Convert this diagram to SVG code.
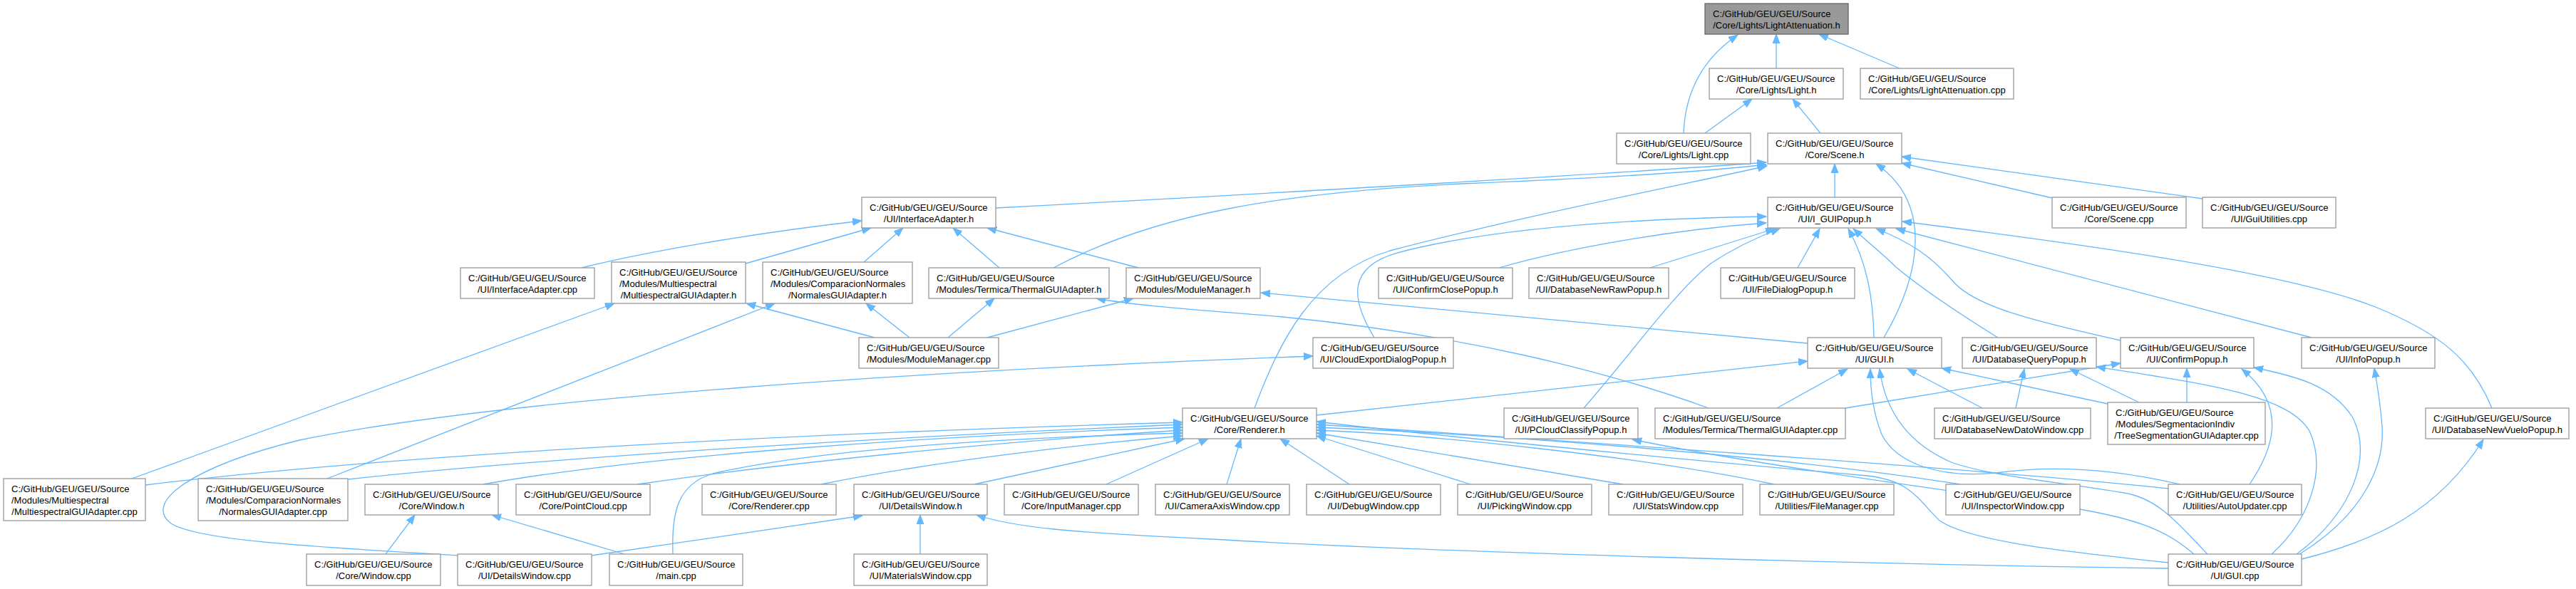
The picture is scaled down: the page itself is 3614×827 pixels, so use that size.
<svg xmlns="http://www.w3.org/2000/svg" width="3614" height="827" viewBox="0 0 3614 827">
<style>
.node rect{fill:#fff;stroke:#999;stroke-width:1.3}
.root rect{fill:#999;stroke:#666}
text{font-family:"Liberation Sans",Arial,sans-serif;font-size:13px;fill:#000}
.c{text-anchor:middle}
.edges path{fill:none;stroke:#63b8ff;stroke-width:1.3;marker-end:url(#arr)}
</style>
<defs>
<marker id="arr" markerUnits="userSpaceOnUse" markerWidth="14" markerHeight="11" refX="13" refY="5" orient="auto"><path d="M0,0 L13,5 L0,10 z" fill="#63b8ff" stroke="#63b8ff" stroke-width="1"/></marker>
</defs>
<rect width="3614" height="827" fill="#fff"/>
<g class="edges">
<path d="M2492,96 L2492,48"/>
<path d="M2362,187 C2364,135 2385,85 2438,49"/>
<path d="M2665,96 L2552,48"/>
<path d="M2392,187 L2458,139"/>
<path d="M2554,187 L2515,139"/>
<path d="M2574,277 L2574,230"/>
<path d="M2879,278 L2668,229"/>
<path d="M3090,279 L2668,220"/>
<path d="M2643,474 C2695,385 2712,285 2632,230"/>
<path d="M1397,292 C1900,265 2250,245 2478,228"/>
<path d="M1478,376 C1620,300 1800,270 2050,258 C2250,250 2400,240 2478,231"/>
<path d="M1760,573 C1795,480 1840,385 1950,352 C2150,300 2350,262 2479,233"/>
<path d="M1928,474 C1895,420 1890,375 1960,355 C2100,318 2300,307 2478,304"/>
<path d="M2103,376 C2200,348 2350,322 2478,313"/>
<path d="M2315,376 L2490,321"/>
<path d="M2222,573 C2290,495 2350,410 2400,370 C2430,350 2460,335 2497,321"/>
<path d="M2522,376 L2553,321"/>
<path d="M2629,474 C2628,420 2620,370 2593,321"/>
<path d="M2803,474 C2740,435 2690,400 2660,375 C2640,355 2620,340 2600,321"/>
<path d="M2975,478 C2850,450 2770,430 2740,395 C2710,360 2680,340 2632,321"/>
<path d="M3243,474 L2660,321"/>
<path d="M3496,573 C3470,510 3430,470 3330,430 C3200,380 2900,340 2669,311"/>
<path d="M2536,482 L1769,411"/>
<path d="M1847,583 L2536,507"/>
<path d="M2493,573 L2592,518"/>
<path d="M2781,573 L2676,518"/>
<path d="M2957,567 L2724,517"/>
<path d="M2828,573 L2840,518"/>
<path d="M3001,565 L2904,518"/>
<path d="M2589,573 L2975,510"/>
<path d="M3068,565 L3068,517"/>
<path d="M3156,680 C3190,630 3210,570 3145,518"/>
<path d="M3222,778 C3300,720 3330,640 3300,585 C3270,540 3220,528 3162,516"/>
<path d="M3226,778 C3320,720 3345,650 3342,600 C3340,570 3336,545 3331,517"/>
<path d="M3229,785 C3330,760 3420,720 3484,617"/>
<path d="M3187,778 C3240,730 3265,660 3240,605 C3210,555 3100,540 2941,515"/>
<path d="M816,376 C900,355 1050,328 1209,310"/>
<path d="M1046,370 L1222,320"/>
<path d="M1212,368 L1267,320"/>
<path d="M1402,376 L1337,320"/>
<path d="M1597,376 L1385,320"/>
<path d="M1227,474 L1047,426"/>
<path d="M1276,474 L1215,426"/>
<path d="M1330,474 L1395,419"/>
<path d="M1385,474 L1590,419"/>
<path d="M2397,573 C2250,520 2050,470 1800,445 C1680,435 1600,430 1538,419"/>
<path d="M185,672 L862,426"/>
<path d="M459,672 L1087,426"/>
<path d="M643,780 C450,768 280,760 240,735 C200,705 270,655 420,618 C700,560 1300,520 1842,500"/>
<path d="M204,681 C500,645 1000,612 1659,593"/>
<path d="M488,673 C700,650 1100,620 1659,596"/>
<path d="M678,680 C900,640 1300,612 1659,600"/>
<path d="M894,680 C1100,650 1400,620 1659,604"/>
<path d="M944,778 C942,720 950,680 1000,665 C1150,630 1400,615 1659,608"/>
<path d="M1152,680 C1300,650 1500,625 1659,612"/>
<path d="M1367,680 L1662,616"/>
<path d="M1552,680 L1695,616"/>
<path d="M1721,680 L1741,616"/>
<path d="M1893,680 L1796,616"/>
<path d="M2063,680 L1847,612"/>
<path d="M2277,680 L1847,608"/>
<path d="M2489,680 C2300,640 2000,610 1847,604"/>
<path d="M2750,680 C2500,640 2100,610 1847,600"/>
<path d="M3042,686 C2800,660 2100,612 1847,596"/>
<path d="M3078,778 C3040,745 3000,728 2900,712 C2700,685 2450,650 2290,617"/>
<path d="M3042,790 C2900,775 2760,760 2720,730 C2690,700 2680,675 2620,668 C2300,640 2000,610 1847,592"/>
<path d="M3058,680 C2990,664 2900,650 2800,664 C2720,672 2660,650 2640,610 C2628,580 2624,550 2624,518"/>
<path d="M3097,778 C3060,740 3030,700 2980,692 C2900,678 2800,670 2740,650 C2680,625 2645,580 2637,518"/>
<path d="M541,778 L582,723"/>
<path d="M876,778 L690,723"/>
<path d="M830,780 L1210,724"/>
<path d="M1291,778 L1291,723"/>
<path d="M3042,798 C2600,792 2000,775 1700,757 C1500,748 1420,740 1370,723"/>
</g>
<g id="n_LightAttenuation_h" class="node root"><rect x="2392" y="5" width="201" height="43"/><text x="2403" y="23.5">C:/GitHub/GEU/GEU/Source</text><text class="c" x="2492.5" y="39.5">/Core/Lights/LightAttenuation.h</text></g>
<g id="n_Light_h" class="node"><rect x="2398" y="96" width="188" height="43"/><text x="2409" y="114.5">C:/GitHub/GEU/GEU/Source</text><text class="c" x="2492" y="130.5">/Core/Lights/Light.h</text></g>
<g id="n_LightAttenuation_cpp" class="node"><rect x="2610" y="96" width="215" height="43"/><text x="2621" y="114.5">C:/GitHub/GEU/GEU/Source</text><text class="c" x="2717.5" y="130.5">/Core/Lights/LightAttenuation.cpp</text></g>
<g id="n_Light_cpp" class="node"><rect x="2268" y="187" width="188" height="43"/><text x="2279" y="205.5">C:/GitHub/GEU/GEU/Source</text><text class="c" x="2362" y="221.5">/Core/Lights/Light.cpp</text></g>
<g id="n_Scene_h" class="node"><rect x="2480" y="187" width="188" height="43"/><text x="2491" y="205.5">C:/GitHub/GEU/GEU/Source</text><text class="c" x="2574" y="221.5">/Core/Scene.h</text></g>
<g id="n_InterfaceAdapter_h" class="node"><rect x="1209" y="277" width="188" height="43"/><text x="1220" y="295.5">C:/GitHub/GEU/GEU/Source</text><text class="c" x="1303" y="311.5">/UI/InterfaceAdapter.h</text></g>
<g id="n_I_GUIPopup_h" class="node"><rect x="2480" y="277" width="188" height="43"/><text x="2491" y="295.5">C:/GitHub/GEU/GEU/Source</text><text class="c" x="2574" y="311.5">/UI/I_GUIPopup.h</text></g>
<g id="n_Scene_cpp" class="node"><rect x="2879" y="277" width="188" height="43"/><text x="2890" y="295.5">C:/GitHub/GEU/GEU/Source</text><text class="c" x="2973" y="311.5">/Core/Scene.cpp</text></g>
<g id="n_GuiUtilities_cpp" class="node"><rect x="3090" y="277" width="187" height="43"/><text x="3101" y="295.5">C:/GitHub/GEU/GEU/Source</text><text class="c" x="3183.5" y="311.5">/UI/GuiUtilities.cpp</text></g>
<g id="n_InterfaceAdapter_cpp" class="node"><rect x="646" y="376" width="188" height="43"/><text x="657" y="394.5">C:/GitHub/GEU/GEU/Source</text><text class="c" x="740" y="410.5">/UI/InterfaceAdapter.cpp</text></g>
<g id="n_MultiespectralGUIAdapter_h" class="node"><rect x="858" y="368" width="188" height="58"/><text x="869" y="386.5">C:/GitHub/GEU/GEU/Source</text><text x="869" y="402.5">/Modules/Multiespectral</text><text class="c" x="952" y="418.5">/MultiespectralGUIAdapter.h</text></g>
<g id="n_NormalesGUIAdapter_h" class="node"><rect x="1070" y="368" width="210" height="58"/><text x="1081" y="386.5">C:/GitHub/GEU/GEU/Source</text><text x="1081" y="402.5">/Modules/ComparacionNormales</text><text class="c" x="1175" y="418.5">/NormalesGUIAdapter.h</text></g>
<g id="n_ThermalGUIAdapter_h" class="node"><rect x="1303" y="376" width="253" height="43"/><text x="1314" y="394.5">C:/GitHub/GEU/GEU/Source</text><text class="c" x="1429.5" y="410.5">/Modules/Termica/ThermalGUIAdapter.h</text></g>
<g id="n_ModuleManager_h" class="node"><rect x="1580" y="376" width="188" height="43"/><text x="1591" y="394.5">C:/GitHub/GEU/GEU/Source</text><text class="c" x="1674" y="410.5">/Modules/ModuleManager.h</text></g>
<g id="n_ConfirmClosePopup_h" class="node"><rect x="1934" y="376" width="188" height="43"/><text x="1945" y="394.5">C:/GitHub/GEU/GEU/Source</text><text class="c" x="2028" y="410.5">/UI/ConfirmClosePopup.h</text></g>
<g id="n_DatabaseNewRawPopup_h" class="node"><rect x="2145" y="376" width="196" height="43"/><text x="2156" y="394.5">C:/GitHub/GEU/GEU/Source</text><text class="c" x="2243" y="410.5">/UI/DatabaseNewRawPopup.h</text></g>
<g id="n_FileDialogPopup_h" class="node"><rect x="2414" y="376" width="188" height="43"/><text x="2425" y="394.5">C:/GitHub/GEU/GEU/Source</text><text class="c" x="2508" y="410.5">/UI/FileDialogPopup.h</text></g>
<g id="n_ModuleManager_cpp" class="node"><rect x="1205" y="474" width="196" height="43"/><text x="1216" y="492.5">C:/GitHub/GEU/GEU/Source</text><text class="c" x="1303" y="508.5">/Modules/ModuleManager.cpp</text></g>
<g id="n_CloudExportDialogPopup_h" class="node"><rect x="1842" y="474" width="197" height="43"/><text x="1853" y="492.5">C:/GitHub/GEU/GEU/Source</text><text class="c" x="1940.5" y="508.5">/UI/CloudExportDialogPopup.h</text></g>
<g id="n_GUI_h" class="node"><rect x="2536" y="474" width="188" height="43"/><text x="2547" y="492.5">C:/GitHub/GEU/GEU/Source</text><text class="c" x="2630" y="508.5">/UI/GUI.h</text></g>
<g id="n_DatabaseQueryPopup_h" class="node"><rect x="2753" y="474" width="188" height="43"/><text x="2764" y="492.5">C:/GitHub/GEU/GEU/Source</text><text class="c" x="2847" y="508.5">/UI/DatabaseQueryPopup.h</text></g>
<g id="n_ConfirmPopup_h" class="node"><rect x="2975" y="474" width="187" height="43"/><text x="2986" y="492.5">C:/GitHub/GEU/GEU/Source</text><text class="c" x="3068.5" y="508.5">/UI/ConfirmPopup.h</text></g>
<g id="n_InfoPopup_h" class="node"><rect x="3229" y="474" width="187" height="43"/><text x="3240" y="492.5">C:/GitHub/GEU/GEU/Source</text><text class="c" x="3322.5" y="508.5">/UI/InfoPopup.h</text></g>
<g id="n_Renderer_h" class="node"><rect x="1659" y="573" width="188" height="43"/><text x="1670" y="591.5">C:/GitHub/GEU/GEU/Source</text><text class="c" x="1753" y="607.5">/Core/Renderer.h</text></g>
<g id="n_PCloudClassifyPopup_h" class="node"><rect x="2110" y="573" width="188" height="43"/><text x="2121" y="591.5">C:/GitHub/GEU/GEU/Source</text><text class="c" x="2204" y="607.5">/UI/PCloudClassifyPopup.h</text></g>
<g id="n_ThermalGUIAdapter_cpp" class="node"><rect x="2322" y="573" width="267" height="43"/><text x="2333" y="591.5">C:/GitHub/GEU/GEU/Source</text><text class="c" x="2455.5" y="607.5">/Modules/Termica/ThermalGUIAdapter.cpp</text></g>
<g id="n_DatabaseNewDatoWindow_cpp" class="node"><rect x="2714" y="573" width="219" height="43"/><text x="2725" y="591.5">C:/GitHub/GEU/GEU/Source</text><text class="c" x="2823.5" y="607.5">/UI/DatabaseNewDatoWindow.cpp</text></g>
<g id="n_TreeSegmentationGUIAdapter_cpp" class="node"><rect x="2957" y="565" width="221" height="59"/><text x="2968" y="583.5">C:/GitHub/GEU/GEU/Source</text><text x="2968" y="599.5">/Modules/SegmentacionIndiv</text><text class="c" x="3067.5" y="615.5">/TreeSegmentationGUIAdapter.cpp</text></g>
<g id="n_DatabaseNewVueloPopup_h" class="node"><rect x="3403" y="573" width="201" height="43"/><text x="3414" y="591.5">C:/GitHub/GEU/GEU/Source</text><text class="c" x="3503.5" y="607.5">/UI/DatabaseNewVueloPopup.h</text></g>
<g id="n_MultiespectralGUIAdapter_cpp" class="node"><rect x="5" y="672" width="199" height="59"/><text x="16" y="690.5">C:/GitHub/GEU/GEU/Source</text><text x="16" y="706.5">/Modules/Multiespectral</text><text class="c" x="104.5" y="722.5">/MultiespectralGUIAdapter.cpp</text></g>
<g id="n_NormalesGUIAdapter_cpp" class="node"><rect x="278" y="672" width="210" height="59"/><text x="289" y="690.5">C:/GitHub/GEU/GEU/Source</text><text x="289" y="706.5">/Modules/ComparacionNormales</text><text class="c" x="383" y="722.5">/NormalesGUIAdapter.cpp</text></g>
<g id="n_Window_h" class="node"><rect x="512" y="680" width="187" height="43"/><text x="523" y="698.5">C:/GitHub/GEU/GEU/Source</text><text class="c" x="605.5" y="714.5">/Core/Window.h</text></g>
<g id="n_PointCloud_cpp" class="node"><rect x="724" y="680" width="188" height="43"/><text x="735" y="698.5">C:/GitHub/GEU/GEU/Source</text><text class="c" x="818" y="714.5">/Core/PointCloud.cpp</text></g>
<g id="n_Renderer_cpp" class="node"><rect x="985" y="680" width="188" height="43"/><text x="996" y="698.5">C:/GitHub/GEU/GEU/Source</text><text class="c" x="1079" y="714.5">/Core/Renderer.cpp</text></g>
<g id="n_DetailsWindow_h" class="node"><rect x="1198" y="680" width="187" height="43"/><text x="1209" y="698.5">C:/GitHub/GEU/GEU/Source</text><text class="c" x="1291.5" y="714.5">/UI/DetailsWindow.h</text></g>
<g id="n_InputManager_cpp" class="node"><rect x="1409" y="680" width="188" height="43"/><text x="1420" y="698.5">C:/GitHub/GEU/GEU/Source</text><text class="c" x="1503" y="714.5">/Core/InputManager.cpp</text></g>
<g id="n_CameraAxisWindow_cpp" class="node"><rect x="1621" y="680" width="188" height="43"/><text x="1632" y="698.5">C:/GitHub/GEU/GEU/Source</text><text class="c" x="1715" y="714.5">/UI/CameraAxisWindow.cpp</text></g>
<g id="n_DebugWindow_cpp" class="node"><rect x="1833" y="680" width="188" height="43"/><text x="1844" y="698.5">C:/GitHub/GEU/GEU/Source</text><text class="c" x="1927" y="714.5">/UI/DebugWindow.cpp</text></g>
<g id="n_PickingWindow_cpp" class="node"><rect x="2045" y="680" width="188" height="43"/><text x="2056" y="698.5">C:/GitHub/GEU/GEU/Source</text><text class="c" x="2139" y="714.5">/UI/PickingWindow.cpp</text></g>
<g id="n_StatsWindow_cpp" class="node"><rect x="2257" y="680" width="188" height="43"/><text x="2268" y="698.5">C:/GitHub/GEU/GEU/Source</text><text class="c" x="2351" y="714.5">/UI/StatsWindow.cpp</text></g>
<g id="n_FileManager_cpp" class="node"><rect x="2469" y="680" width="188" height="43"/><text x="2480" y="698.5">C:/GitHub/GEU/GEU/Source</text><text class="c" x="2563" y="714.5">/Utilities/FileManager.cpp</text></g>
<g id="n_InspectorWindow_cpp" class="node"><rect x="2730" y="680" width="188" height="43"/><text x="2741" y="698.5">C:/GitHub/GEU/GEU/Source</text><text class="c" x="2824" y="714.5">/UI/InspectorWindow.cpp</text></g>
<g id="n_AutoUpdater_cpp" class="node"><rect x="3042" y="680" width="187" height="43"/><text x="3053" y="698.5">C:/GitHub/GEU/GEU/Source</text><text class="c" x="3135.5" y="714.5">/Utilities/AutoUpdater.cpp</text></g>
<g id="n_Window_cpp" class="node"><rect x="430" y="778" width="188" height="44"/><text x="441" y="796.5">C:/GitHub/GEU/GEU/Source</text><text class="c" x="524" y="812.5">/Core/Window.cpp</text></g>
<g id="n_DetailsWindow_cpp" class="node"><rect x="642" y="778" width="188" height="44"/><text x="653" y="796.5">C:/GitHub/GEU/GEU/Source</text><text class="c" x="736" y="812.5">/UI/DetailsWindow.cpp</text></g>
<g id="n_main_cpp" class="node"><rect x="855" y="778" width="187" height="44"/><text x="866" y="796.5">C:/GitHub/GEU/GEU/Source</text><text class="c" x="948.5" y="812.5">/main.cpp</text></g>
<g id="n_MaterialsWindow_cpp" class="node"><rect x="1198" y="778" width="187" height="44"/><text x="1209" y="796.5">C:/GitHub/GEU/GEU/Source</text><text class="c" x="1291.5" y="812.5">/UI/MaterialsWindow.cpp</text></g>
<g id="n_GUI_cpp" class="node"><rect x="3042" y="778" width="187" height="44"/><text x="3053" y="796.5">C:/GitHub/GEU/GEU/Source</text><text class="c" x="3135.5" y="812.5">/UI/GUI.cpp</text></g>
</svg>
